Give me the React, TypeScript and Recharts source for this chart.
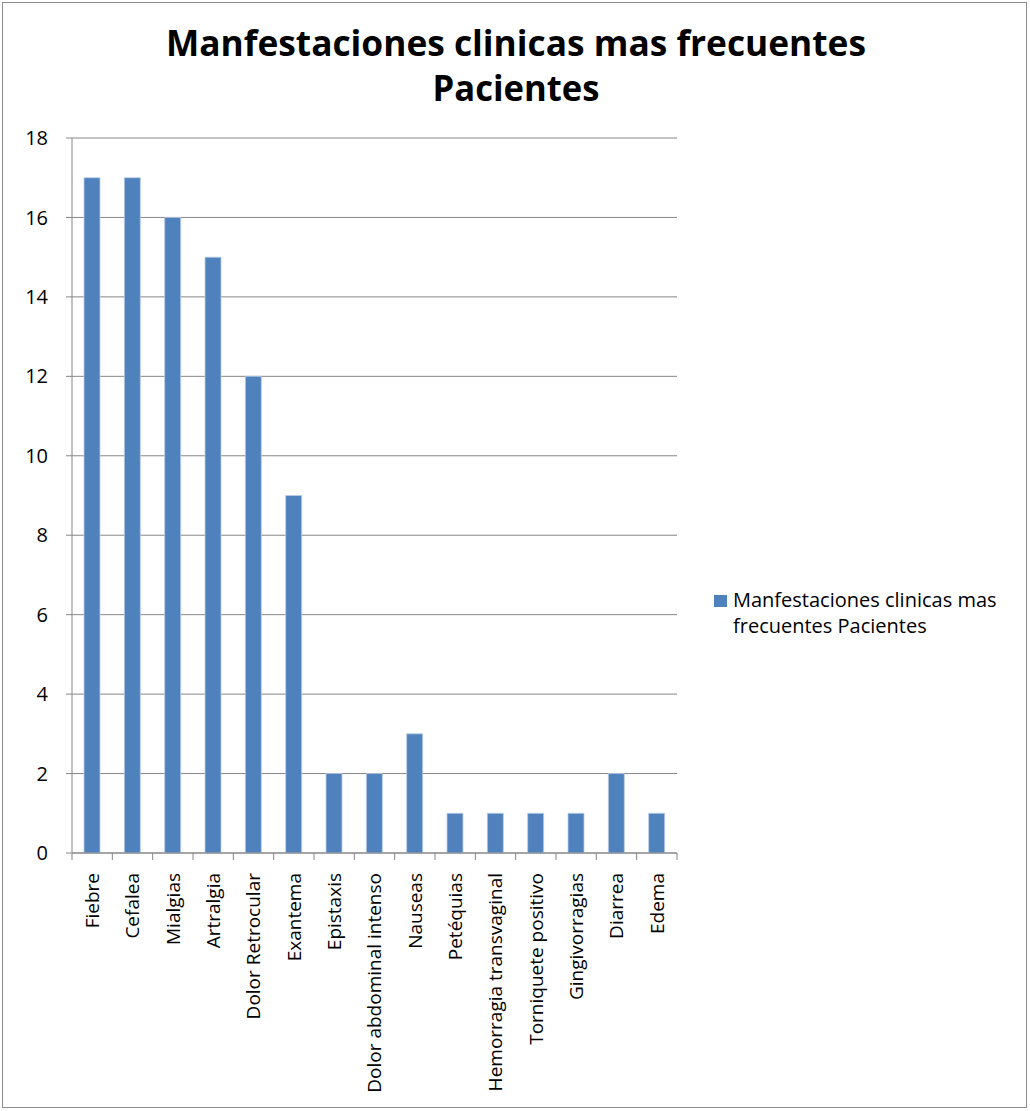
import React from 'react';
import { BarChart, Bar, XAxis, YAxis, CartesianGrid } from 'recharts';

// Manifestaciones clínicas más frecuentes (número de pacientes)
const sintomas = [
  'Fiebre',
  'Cefalea',
  'Mialgias',
  'Artralgia',
  'Dolor Retrocular',
  'Exantema',
  'Epistaxis',
  'Dolor abdominal intenso',
  'Nauseas',
  'Petéquias',
  'Hemorragia transvaginal',
  'Torniquete positivo',
  'Gingivorragias',
  'Diarrea',
  'Edema',
];
const pacientes = [17, 17, 16, 15, 12, 9, 2, 2, 3, 1, 1, 1, 1, 2, 1];
const yTicks = [0, 2, 4, 6, 8, 10, 12, 14, 16, 18];

const FONT = '"Open Sans", "Liberation Sans", sans-serif';
const AXIS_GRAY = '#868686';
const BAR_BLUE = '#4F81BD';

const data = sintomas.map((s, i) => ({ sintoma: s, valor: pacientes[i] }));

// Etiqueta vertical + marcas de división entre categorías (estilo Excel)
function CategoryTick(props: any) {
  const { x, y, payload, index } = props;
  const half = payload.offset ?? 0;
  const last = index === sintomas.length - 1;
  return (
    <g>
      <line x1={x - half} y1={y} x2={x - half} y2={y + 7} stroke={AXIS_GRAY} strokeWidth={1} />
      {last && <line x1={x + half} y1={y} x2={x + half} y2={y + 7} stroke={AXIS_GRAY} strokeWidth={1} />}
      <text
        x={x}
        y={y + 20}
        transform={`rotate(-90, ${x}, ${y + 20})`}
        textAnchor="end"
        dy="0.36em"
        fontSize={19}
        fontFamily={FONT}
        fill="#000"
      >
        {payload.value}
      </text>
    </g>
  );
}

function LegendBox() {
  return (
    <div
      style={{
        position: 'absolute',
        left: 714,
        top: 587,
        display: 'flex',
        alignItems: 'flex-start',
        fontFamily: FONT,
        fontSize: 20,
        lineHeight: '26px',
        color: '#000',
      }}
    >
      <div style={{ width: 13, height: 12, background: BAR_BLUE, marginTop: 8, marginRight: 6, flexShrink: 0 }} />
      <div style={{ width: 300, whiteSpace: 'nowrap' }}>
        Manfestaciones clinicas mas
        <br />
        frecuentes Pacientes
      </div>
    </div>
  );
}

export default function App() {
  return (
    <div style={{ position: 'absolute', left: 0, top: 0, width: 1030, height: 1111, background: '#fff' }}>
      <div
        style={{
          position: 'absolute',
          left: 2,
          top: 2,
          width: 1025,
          height: 1106,
          border: '1.5px solid #8c8c8c',
          boxSizing: 'border-box',
        }}
      />
      <svg width={1030} height={120} style={{ position: 'absolute', left: 0, top: 0 }}>
        <text
          x={516}
          y={56}
          textAnchor="middle"
          fontFamily={FONT}
          fontWeight={700}
          fontSize={36}
          textLength={700}
          lengthAdjust="spacingAndGlyphs"
        >
          Manfestaciones clinicas mas frecuentes
        </text>
        <text
          x={516}
          y={101}
          textAnchor="middle"
          fontFamily={FONT}
          fontWeight={700}
          fontSize={36}
          textLength={167}
          lengthAdjust="spacingAndGlyphs"
        >
          Pacientes
        </text>
      </svg>
      <div style={{ position: 'absolute', left: 0, top: 0 }}>
        <BarChart
          width={1030}
          height={1111}
          data={data}
          margin={{ top: 138, right: 353, left: 12, bottom: 58 }}
          barSize={16}
        >
          <CartesianGrid vertical={false} stroke={AXIS_GRAY} strokeWidth={1} />
          <XAxis
            dataKey="sintoma"
            interval={0}
            height={200}
            tickLine={false}
            tickSize={0}
            tickMargin={0}
            axisLine={{ stroke: AXIS_GRAY, strokeWidth: 1 }}
            tick={<CategoryTick />}
          />
          <YAxis
            width={60}
            domain={[0, 18]}
            ticks={yTicks}
            interval={0}
            tickSize={6}
            tickMargin={18}
            tickLine={{ stroke: AXIS_GRAY }}
            axisLine={{ stroke: AXIS_GRAY, strokeWidth: 1 }}
            tick={{ fontSize: 20, fontFamily: FONT, fill: '#000' }}
          />
          <Bar
            dataKey="valor"
            fill={BAR_BLUE}
            stroke="#B9CDE5"
            strokeWidth={0.8}
            isAnimationActive={false}
          />
        </BarChart>
      </div>
      <LegendBox />
    </div>
  );
}
